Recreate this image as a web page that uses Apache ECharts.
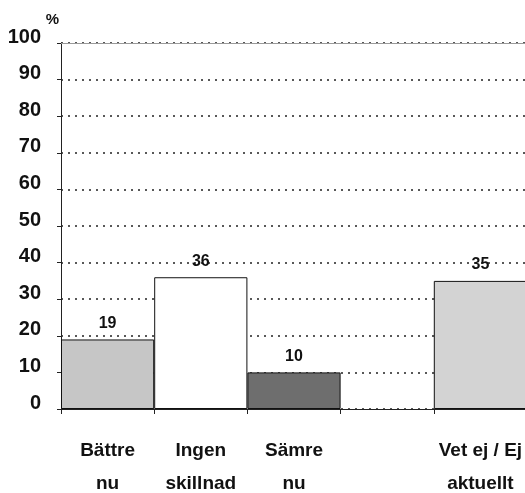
<!DOCTYPE html>
<html><head><meta charset="utf-8">
<script src="https://cdn.jsdelivr.net/npm/echarts@6/dist/echarts.min.js"></script>
<style>html,body{margin:0;padding:0;background:#fff}#c{width:525px;height:493px}</style>
</head><body><div id="c"></div>
<script>
const categories = ['Bättre\nnu', 'Ingen\nskillnad', 'Sämre\nnu', '', 'Vet ej / Ej\naktuellt'];
const values = [19, 36, 10, null, 35];
const barColors = ['#c6c6c6', '#ffffff', '#6e6e6e', '#ffffff', '#d3d3d3'];
const yTicks = [0, 10, 20, 30, 40, 50, 60, 70, 80, 90, 100];

const font = '"Liberation Sans", Arial, sans-serif';
const chart = echarts.init(document.getElementById('c'));
chart.setOption({
  animation: false,
  backgroundColor: '#fff',
  grid: { left: 61, right: -2, top: 43, bottom: 84, outerBoundsMode: 'none', containLabel: false },
  xAxis: [{
    type: 'category', data: categories, position: 'bottom',
    axisLine: { lineStyle: { color: '#222', width: 1 } },
    axisTick: { show: true, length: 5, lineStyle: { color: '#222' } },
    axisLabel: { color: '#111', fontFamily: font, fontWeight: 'bold', fontSize: 19, lineHeight: 33, margin: 25, interval: 0 }
  }, {
    type: 'category', data: categories, position: 'top',
    axisLine: { lineStyle: { color: '#999', width: 1 } },
    axisTick: { show: false }, axisLabel: { show: false }
  }],
  yAxis: {
    type: 'value', min: 0, max: 100, interval: 10,
    name: '%', nameLocation: 'end', nameGap: 14,
    nameTextStyle: { color: '#111', fontFamily: font, fontWeight: 'bold', fontSize: 15, align: 'right', padding: [0, 2, 0, 0] },
    axisLine: { show: true, lineStyle: { color: '#222', width: 1 } },
    axisTick: { show: true, length: 4, lineStyle: { color: '#222' } },
    axisLabel: { color: '#111', fontFamily: font, fontWeight: 'bold', fontSize: 20, margin: 20,
      verticalAlign: 'bottom', lineHeight: 12,
      formatter: v => yTicks.includes(v) ? String(v) : '' },
    splitLine: { show: true, lineStyle: { color: '#222', type: [2, 5], width: 1.5 } }
  },
  series: [{
    type: 'bar', xAxisIndex: 0,
    barCategoryGap: '0%',
    data: values.map((v, i) => ({ value: v, itemStyle: { color: barColors[i] } })),
    itemStyle: { borderColor: '#111', borderWidth: 1 },
    label: { show: true, position: 'top', distance: 8, color: '#111', fontFamily: font, fontWeight: 'bold', fontSize: 16 }
  }]
});
</script></body></html>
